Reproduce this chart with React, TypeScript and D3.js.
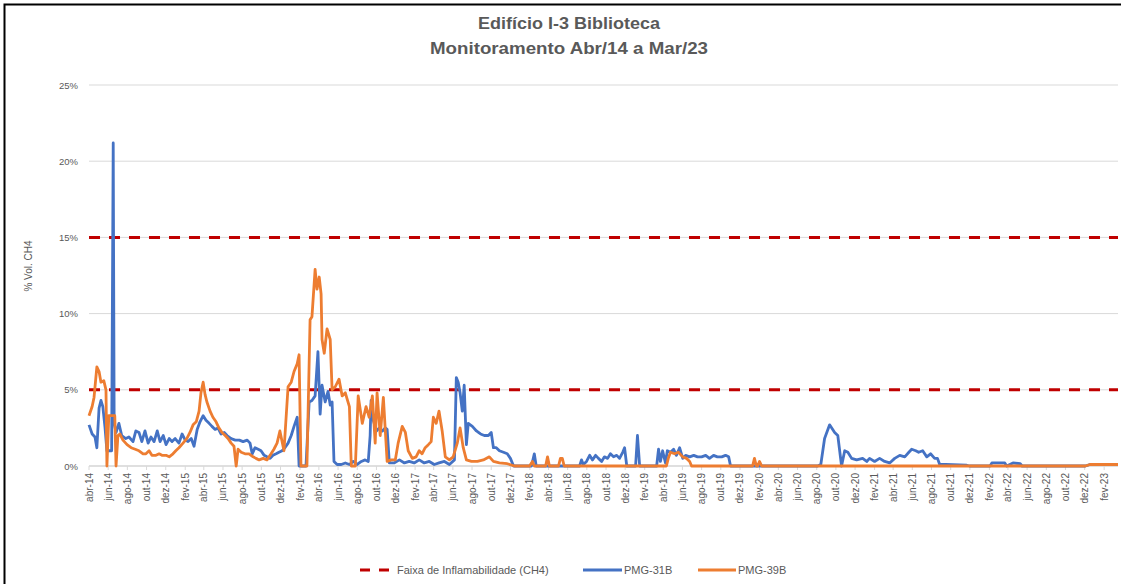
import React from "react";
import * as d3 from "d3";

const yTicks = [0, 5, 10, 15, 20, 25];
const limitLevels = [5, 15];

const pmg31bDates = [
  "2014-04-01","2014-04-11","2014-04-20","2014-04-26","2014-05-03","2014-05-09","2014-05-15","2014-05-22","2014-05-28","2014-06-12","2014-06-17","2014-06-20","2014-06-26",
  "2014-07-05","2014-07-14","2014-07-27","2014-08-06","2014-08-19","2014-08-28","2014-09-07","2014-09-16","2014-09-26","2014-10-06","2014-10-15","2014-10-25",
  "2014-11-04","2014-11-13","2014-11-23","2014-12-02","2014-12-12","2014-12-21","2014-12-31","2015-01-12","2015-01-22","2015-02-01","2015-02-10","2015-02-20","2015-03-01",
  "2015-03-11","2015-03-20","2015-03-30","2015-04-08","2015-04-18","2015-04-27","2015-05-07","2015-05-16","2015-05-26","2015-06-05","2015-06-14","2015-06-27",
  "2015-07-10","2015-07-23","2015-08-04","2015-08-17","2015-08-26","2015-09-02","2015-09-11","2015-09-21","2015-09-30","2015-10-10","2015-10-19","2015-10-29",
  "2015-11-07","2015-11-17","2015-11-26","2015-12-06","2015-12-15","2015-12-25","2016-01-04","2016-01-13","2016-01-23","2016-01-29","2016-02-20",
  "2016-03-01","2016-03-10","2016-03-20","2016-03-29","2016-04-05","2016-04-11","2016-04-21","2016-04-30","2016-05-07","2016-05-13","2016-05-19","2016-05-29",
  "2016-06-11","2016-06-24","2016-07-07","2016-07-19","2016-08-01","2016-08-14","2016-08-26","2016-09-05","2016-09-11","2016-09-14","2016-09-21",
  "2016-10-01","2016-10-10","2016-10-20","2016-10-29","2016-11-04","2016-11-11","2016-11-26","2016-12-13","2016-12-29","2017-01-13","2017-01-29","2017-02-14",
  "2017-03-02","2017-03-18","2017-04-03","2017-04-18","2017-05-05","2017-05-21","2017-06-06","2017-06-12","2017-06-18","2017-06-24","2017-07-01","2017-07-07",
  "2017-07-14","2017-07-20","2017-08-02","2017-08-15","2017-08-28","2017-09-09","2017-09-22","2017-10-01","2017-10-08","2017-10-17","2017-10-27","2017-11-09",
  "2017-11-21","2017-12-01","2017-12-11","2018-02-06","2018-02-15","2018-02-21","2018-07-09","2018-07-15","2018-07-21","2018-07-31","2018-08-10","2018-08-19",
  "2018-08-29","2018-09-07","2018-09-17","2018-09-26","2018-10-06","2018-10-15","2018-10-25","2018-11-04","2018-11-13","2018-11-23","2018-11-29","2018-12-06",
  "2019-01-03","2019-01-09","2019-01-16","2019-03-11","2019-03-17","2019-03-23","2019-03-30","2019-04-08","2019-04-14","2019-04-24","2019-05-04","2019-05-13",
  "2019-05-23","2019-06-02","2019-06-11","2019-06-24","2019-07-07","2019-07-19","2019-08-01","2019-08-14","2019-08-26","2019-09-08","2019-09-20","2019-10-04",
  "2019-10-16","2019-10-26","2019-11-01","2020-08-04","2020-08-14","2020-08-26","2020-09-11","2020-09-27","2020-10-07","2020-10-19","2020-10-29","2020-11-08",
  "2020-11-20","2020-12-06","2020-12-25","2021-01-07","2021-01-16","2021-02-01","2021-02-17","2021-03-05","2021-03-21","2021-04-06","2021-04-22","2021-05-08",
  "2021-05-21","2021-05-30","2021-06-12","2021-06-21","2021-07-04","2021-07-17","2021-07-29","2021-08-11","2021-08-20","2021-08-27","2021-09-15","2021-11-21",
  "2021-11-30","2022-02-03","2022-02-09","2022-03-06","2022-03-22","2022-03-28","2022-04-17","2022-05-10","2022-05-16","2022-12-03","2022-12-18","2023-03-17"
];
const pmg31bValues = [
  2.7,2.1,1.9,1.2,3.8,4.3,3.9,2.5,1.0,1.0,21.2,2.8,2.2,
  2.8,2.0,1.8,1.9,1.6,2.3,2.2,1.6,2.3,1.5,1.9,1.6,
  2.3,1.6,2.0,1.4,1.8,1.6,1.8,1.5,2.1,1.7,1.6,1.8,1.3,
  2.4,2.9,3.3,3.0,2.8,2.6,2.4,2.5,2.1,2.2,2.0,1.8,
  1.7,1.7,1.6,1.7,1.5,0.8,1.2,1.1,1.0,0.7,0.6,0.5,
  0.7,0.8,0.9,1.0,1.2,1.5,2.0,2.6,3.2,0,0,
  4.2,4.3,4.6,7.5,3.4,5.3,4.2,4.9,4.0,4.2,0.3,0.1,
  0.1,0.2,0.1,0.3,0.1,0.3,0.4,0.3,2.0,4.3,3.0,
  2.3,2.5,2.3,2.5,2.4,0.2,0.2,0.4,0.2,0.3,0.2,0.4,
  0.2,0.3,0.1,0.2,0.3,0.1,0.4,5.8,5.5,4.8,3.6,5.3,
  1.4,2.8,2.6,2.3,2.1,2.0,2.0,2.2,1.2,1.2,1.0,0.9,
  0.8,0.5,0,0,0.8,0,0,0.4,0.1,0.3,0.7,0.4,
  0.7,0.5,0.3,0.6,0.5,0.8,0.6,0.7,0.5,0.9,1.2,0,
  0,2.0,0,0,1.1,0.3,1.0,0.2,1.0,0.9,1.1,0.7,
  1.2,0.5,0.7,0.6,0.7,0.6,0.6,0.7,0.5,0.7,0.6,0.6,
  0.7,0.6,0,0,0.1,1.8,2.7,2.2,2.0,0,1.0,0.9,
  0.5,0.4,0.5,0.3,0.5,0.3,0.5,0.3,0.2,0.5,0.7,0.6,
  0.9,1.1,1.0,0.9,1.0,0.6,0.8,0.5,0.5,0.1,0.1,0.05,
  0,0,0.2,0.2,0.2,0,0.2,0.15,0,0,0.1,0.1
];

const pmg39bDates = [
  "2014-04-01","2014-04-11","2014-04-17","2014-04-26","2014-05-03","2014-05-09","2014-05-18","2014-05-25","2014-05-28","2014-06-03","2014-06-22","2014-06-26",
  "2014-07-02","2014-07-08","2014-07-18","2014-07-31","2014-08-13","2014-08-26","2014-09-07","2014-09-20","2014-09-29","2014-10-09","2014-10-18","2014-10-31",
  "2014-11-10","2014-11-19","2014-12-02","2014-12-12","2014-12-24","2015-01-02","2015-01-12","2015-01-25","2015-02-06","2015-02-16","2015-02-26","2015-03-08",
  "2015-03-17","2015-03-23","2015-03-30","2015-04-05","2015-04-11","2015-04-21","2015-04-30","2015-05-10","2015-05-19","2015-05-29","2015-06-08","2015-06-17",
  "2015-06-27","2015-07-06","2015-07-13","2015-07-19","2015-07-29","2015-08-10","2015-08-23","2015-09-05","2015-09-14","2015-09-24","2015-10-07","2015-10-19",
  "2015-11-01","2015-11-10","2015-11-20","2015-11-29","2015-12-12","2015-12-25","2016-01-04","2016-01-13","2016-01-23","2016-01-29","2016-02-04","2016-02-23",
  "2016-03-04","2016-03-10","2016-03-20","2016-03-26","2016-04-02","2016-04-08","2016-04-11","2016-04-18","2016-04-27","2016-05-07","2016-05-13","2016-05-23",
  "2016-06-04","2016-06-14","2016-06-24","2016-07-07","2016-07-13","2016-07-26","2016-08-04","2016-08-17","2016-08-29","2016-09-08","2016-09-18","2016-09-27",
  "2016-10-03","2016-10-13","2016-10-23","2016-11-04","2016-11-17","2016-11-30","2016-12-09","2016-12-22","2017-01-01","2017-01-10","2017-01-23","2017-02-04",
  "2017-02-14","2017-02-23","2017-03-05","2017-03-15","2017-03-24","2017-03-31","2017-04-09","2017-04-18","2017-04-28","2017-05-08","2017-05-21","2017-06-02",
  "2017-06-15","2017-06-24","2017-07-04","2017-07-14","2017-07-30","2017-08-18","2017-09-06","2017-09-25","2017-10-08","2017-10-27","2017-11-21","2017-12-14",
  "2018-01-31","2018-02-09","2018-02-15","2018-03-23","2018-03-29","2018-04-04","2018-05-03","2018-05-09","2018-05-15","2018-05-21","2019-04-11","2019-04-17",
  "2019-04-24","2019-05-07","2019-05-19","2019-06-02","2019-06-14","2019-06-24","2019-06-30","2020-01-10","2020-01-16","2020-01-22","2020-01-26","2020-02-01",
  "2020-02-08","2022-12-03","2022-12-18","2023-03-17"
];
const pmg39bValues = [
  3.3,3.9,4.5,6.5,6.2,5.5,5.6,5.0,0,3.3,3.3,0,
  2.0,2.1,1.7,1.4,1.2,1.1,1.0,0.8,0.8,1.0,0.7,0.7,
  0.8,0.7,0.7,0.6,0.8,1.0,1.2,1.5,1.8,2.2,2.7,2.9,
  3.6,4.8,5.5,4.7,4.2,3.6,3.2,2.9,2.5,2.2,2.0,1.8,
  1.5,1.3,0,1.1,0.9,0.8,0.8,0.6,0.5,0.4,0.5,0.4,
  0.8,1.1,1.5,2.3,1.0,5.2,5.5,6.2,6.7,7.3,0,0,
  9.6,9.8,12.9,11.6,12.4,11.3,8.3,7.4,9.0,8.3,5.0,5.2,
  5.7,4.6,4.8,3.9,0,0,4.6,2.8,3.9,3.2,4.6,1.5,
  4.8,2.0,4.5,0.3,0.4,0.4,1.5,2.6,2.2,1.0,0.5,0.6,
  1.0,0.8,1.2,1.4,1.6,3.2,2.8,3.6,2.3,0.6,0.4,0.6,
  1.5,2.5,1.2,0.4,0.3,0.3,0.4,0.6,0.3,0.2,0.15,0,
  0,0.3,0,0,0.6,0,0,0.5,0.5,0,0,0.5,
  0.9,0.8,0.9,0.6,0.5,0.3,0,0,0.5,0,0,0.3,
  0,0,0.1,0.1
];

const axisStart = "2014-04-01";
const axisEnd = "2023-03-17";
const tickStart = "2014-04-01";
const tickEnd = "2023-02-01";
const monthAbbr = ["jan","fev","mar","abr","mai","jun","jul","ago","set","out","nov","dez"];

const titleLines = ["Edifício I-3 Biblioteca", "Monitoramento Abr/14 a Mar/23"];
const yAxisTitle = "% Vol. CH4";
const seriesNames = ["Faixa de Inflamabilidade (CH4)", "PMG-31B", "PMG-39B"];

const W = 1121, H = 584;
const M = { left: 89, right: 1118, top: 85, bottom: 466 };
const FONT = "'Liberation Sans', Arial, sans-serif";
const GRAY = "#595959";
const BLUE = "#4472C4";
const ORANGE = "#ED7D31";
const RED = "#C00000";

export default function App() {
  const parse = d3.utcParse("%Y-%m-%d");
  const x = d3.scaleUtc().domain([parse(axisStart)!, parse(axisEnd)!]).range([M.left, M.right]);
  const y = d3.scaleLinear().domain([0, 25]).range([M.bottom, M.top]);
  const ticks = d3.utcMonth.range(parse(tickStart)!, d3.utcDay.offset(parse(tickEnd)!, 1), 2);
  const fmt = (d: Date) => `${monthAbbr[d.getUTCMonth()]}-${String(d.getUTCFullYear()).slice(2)}`;

  const line = d3.line<[Date, number]>().x(d => x(d[0])).y(d => y(d[1]));
  const blue: [Date, number][] = pmg31bDates.map((d, i) => [parse(d)!, pmg31bValues[i]]);
  const orange: [Date, number][] = pmg39bDates.map((d, i) => [parse(d)!, pmg39bValues[i]]);

  return (
    <svg width={W} height={H} style={{ position: "absolute", left: 0, top: 0, background: "#fff" }} fontFamily={FONT}>
      <rect x={0} y={0} width={W} height={H} fill="#fff" />
      <path d={`M4.5,${H + 5}V4.5H${W + 5}`} fill="none" stroke="#000" strokeWidth={2} />
      <text x={569} y={29} textAnchor="middle" fontSize={17} fontWeight="bold" fill={GRAY} textLength={182} lengthAdjust="spacingAndGlyphs">{titleLines[0]}</text>
      <text x={569} y={54} textAnchor="middle" fontSize={17} fontWeight="bold" fill={GRAY} textLength={278} lengthAdjust="spacingAndGlyphs">{titleLines[1]}</text>
      {yTicks.map(t => (
        <g key={t}>
          <line x1={M.left} x2={M.right} y1={y(t)} y2={y(t)} stroke={t === 0 ? "#BFBFBF" : "#D9D9D9"} strokeWidth={1} />
          <text x={78} y={y(t) + 3.5} textAnchor="end" fontSize={9.5} fill={GRAY}>{t}%</text>
        </g>
      ))}
      <text transform={`translate(32,266) rotate(-90)`} textAnchor="middle" fontSize={10} fill={GRAY}>{yAxisTitle}</text>
      {ticks.map((t, i) => (
        <g key={i}>
          <line x1={x(t)} x2={x(t)} y1={M.bottom} y2={M.bottom + 4} stroke="#D9D9D9" />
          <text transform={`translate(${x(t) + 3.5},${M.bottom + 7}) rotate(-90)`} textAnchor="end" fontSize={10} fill={GRAY}>{fmt(t)}</text>
        </g>
      ))}
      {limitLevels.map(l => (
        <line key={l} x1={M.left} x2={M.right} y1={y(l)} y2={y(l)} stroke={RED} strokeWidth={3} strokeDasharray="11,9" />
      ))}
      <path d={line(blue)!} fill="none" stroke={BLUE} strokeWidth={2.8} strokeLinejoin="round" />
      <path d={line(orange)!} fill="none" stroke={ORANGE} strokeWidth={2.8} strokeLinejoin="round" />
      <g fontSize={11} fill={GRAY}>
        <line x1={360} x2={389} y1={570} y2={570} stroke={RED} strokeWidth={3} strokeDasharray="10,9" />
        <text x={397} y={574}>{seriesNames[0]}</text>
        <line x1={583} x2={622} y1={570} y2={570} stroke={BLUE} strokeWidth={2.8} />
        <text x={624} y={574}>{seriesNames[1]}</text>
        <line x1={698} x2={736} y1={570} y2={570} stroke={ORANGE} strokeWidth={2.8} />
        <text x={738} y={574}>{seriesNames[2]}</text>
      </g>
    </svg>
  );
}
